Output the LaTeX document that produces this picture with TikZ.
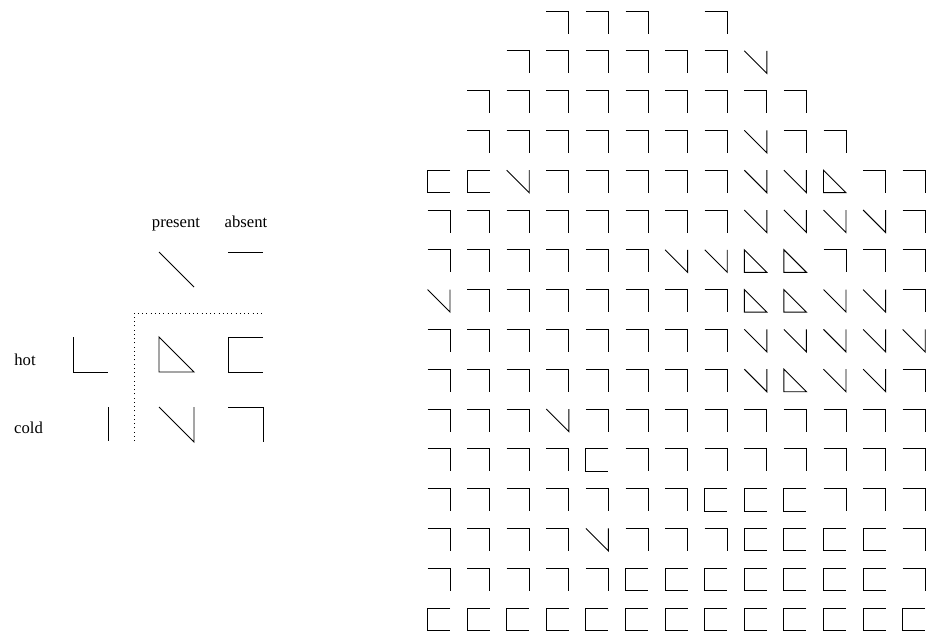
\documentclass[tikz,border=0pt]{standalone}
\usepackage{fontspec}
\setmainfont{Liberation Serif}
\tikzset{
  glyph/.style={line width=0.55pt, line join=miter},
  pics/gA/.style={code={\draw[glyph] (0,0)--(1,0)--(1,1);}},
  pics/gP/.style={code={\draw[glyph] (0,0)--(1,1)--(1,0);}},
  pics/gH/.style={code={\draw[glyph] (1,0)--(0,0)--(0,1)--(1,1);}},
  pics/gT/.style={code={\draw[glyph] (0,0)--(1,1)--(0,1)--cycle;}},
  pics/go/.style={code={}},
  gridsize/.style={scale=22.5},
  legsize/.style={scale=35},
  lab/.style={font=\fontsize{10pt}{12pt}\selectfont, anchor=base, inner sep=0pt}
}
\begin{document}
\begin{tikzpicture}[x=0.6pt, y=-0.6pt]
\useasboundingbox (0,0) rectangle (929,631);
% legend texts
\node[lab] (present) at (176,227) {present};
\node[lab] (absent) at (246,227) {absent};
\node[lab] (hot) at (25,365) {hot};
\node[lab] (cold) at (28.5,433) {cold};
% legend marks
\draw[glyph] (159,252) -- (194,287);
\draw[glyph] (228,252) -- (263,252);
\draw[glyph] (73,337) -- (73,372) -- (108,372);
\draw[glyph] (108,407) -- (108,441);
\draw[glyph, dotted] (134,441) -- (134,313) -- (263,313);
\pic[legsize] at (159,337) {gT};
\pic[legsize] at (228,337) {gH};
\pic[legsize] at (159,407) {gP};
\pic[legsize] at (228,407) {gA};
% grid
\foreach \row [count=\r] in {
  {o,o,o,A,A,A,o,A,o,o,o,o,o},
  {o,o,A,A,A,A,A,A,P,o,o,o,o},
  {o,A,A,A,A,A,A,A,A,A,o,o,o},
  {o,A,A,A,A,A,A,A,P,A,A,o,o},
  {H,H,P,A,A,A,A,A,P,P,T,A,A},
  {A,A,A,A,A,A,A,A,P,P,P,P,A},
  {A,A,A,A,A,A,P,P,T,T,A,A,A},
  {P,A,A,A,A,A,A,A,T,T,P,P,A},
  {A,A,A,A,A,A,A,A,P,P,P,P,P},
  {A,A,A,A,A,A,A,A,P,T,P,P,A},
  {A,A,A,P,A,A,A,A,A,A,A,A,A},
  {A,A,A,A,H,A,A,A,A,A,A,A,A},
  {A,A,A,A,A,A,A,H,H,H,A,A,A},
  {A,A,A,A,P,A,A,A,H,H,H,H,A},
  {A,A,A,A,A,H,H,H,H,H,H,H,A},
  {H,H,H,H,H,H,H,H,H,H,H,H,H}} {
  \foreach \g [count=\c] in \row {
    \pic[gridsize] at ({427.5+39.6*(\c-1)},{11+39.8*(\r-1)}) {g\g};
  }
}
\end{tikzpicture}
\end{document}
